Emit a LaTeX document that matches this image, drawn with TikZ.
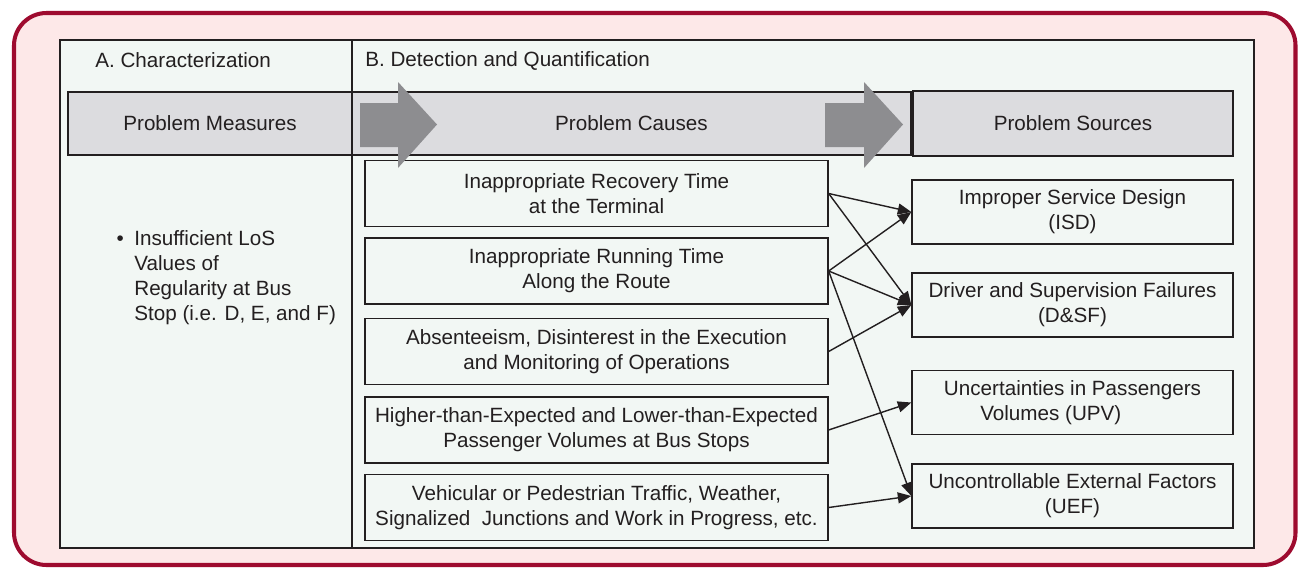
\documentclass[tikz,border=0pt]{standalone}
\usepackage{fontspec}
\setmainfont{Liberation Sans}
\usetikzlibrary{arrows.meta}
\definecolor{frameRed}{HTML}{9E0B2F}
\definecolor{framePink}{HTML}{FDE8E8}
\definecolor{panelGreen}{HTML}{F2F7F4}
\definecolor{barGray}{HTML}{DCDCDF}
\definecolor{arrowGray}{HTML}{8D8D90}
\definecolor{inkBlack}{HTML}{231F20}
\newcommand*{\mytextstyle}{\fontsize{11.75}{14.2}\selectfont\color{inkBlack}}
\newcommand{\blockarrow}[3]{%
% shaft start x, head base x, tip x
  \fill[arrowGray] (#1,103) -- (#2,103) -- (#2,82) -- (#3,124.5)
       -- (#2,168) -- (#2,147) -- (#1,147) -- cycle;
}
\tikzset{
  hdr/.style={draw=inkBlack, line width=0.8pt, fill=barGray, font=\mytextstyle,
    minimum height=1.26cm, inner sep=0pt},
  causebox/.style={draw=inkBlack, line width=0.8pt, fill=panelGreen, font=\mytextstyle,
    align=center, minimum width=9.26cm, minimum height=1.32cm, inner sep=0pt},
  sourcebox/.style={draw=inkBlack, line width=0.8pt, fill=panelGreen, font=\mytextstyle,
    align=center, minimum width=6.42cm, minimum height=1.28cm, inner sep=0pt},
  link/.style={draw=inkBlack, line width=0.8pt, -{Triangle[length=0.27cm,width=0.22cm]}}
}
\begin{document}
\begin{tikzpicture}[x=0.02cm, y=-0.02cm]
  \useasboundingbox (0,0) rectangle (1301,568);
  \draw[frameRed, fill=framePink, line width=2.3pt, rounded corners=0.65cm]
    (14,13) rectangle (1295.5,565);
  \draw[inkBlack, fill=panelGreen, line width=1.2pt] (60,40) rectangle (1254,548);
  \draw[inkBlack, line width=1.2pt] (352,40) -- (352,548);
  \node[anchor=west, font=\mytextstyle, inner sep=0pt] (parta) at (95,60) {A. Characterization};
  \node[anchor=west, font=\mytextstyle, inner sep=0pt] (partb) at (365,61) {B. Detection and Quantification};
  % header bar
  \node[hdr, minimum width=5.68cm] (measures) at (210,123.5) {Problem Measures};
  \node[hdr, minimum width=11.18cm] (causes) at (631.5,123.5) {Problem Causes};
  \node[hdr, minimum width=6.4cm, minimum height=1.3cm] (sources) at (1073,123.5) {Problem Sources};
  \node[font=\mytextstyle, align=left, inner sep=0pt, anchor=west] (measure) at (134,278)
    {\llap{\textbullet\hspace{6pt}}Insufficient LoS\\Values of\\Regularity at Bus\\Stop (i.e. D, E, and F)};
  % causes
  \foreach \name/\y/\text in {
      c1/193.5/{Inappropriate Recovery Time\\at the Terminal},
      c2/271/{Inappropriate Running Time\\Along the Route},
      c3/351.5/{Absenteeism, Disinterest in the Execution\\and Monitoring of Operations},
      c4/430/{Higher-than-Expected and Lower-than-Expected\\Passenger Volumes at Bus Stops},
      c5/507.5/{Vehicular or Pedestrian Traffic, Weather,\\Signalized\ \ Junctions and Work in Progress, etc.}} {
    \node[causebox] (\name) at (596.5,\y) {\text};
  }
  % sources
  \foreach \name/\y/\text in {
      isd/212/{Improper Service Design\\(ISD)},
      dsf/305/{Driver and Supervision Failures\\(D\&SF)},
      upv/402.5/{Uncertainties in Passengers\\Volumes (UPV)\hspace*{2.1em}},
      uef/496/{Uncontrollable External Factors\\(UEF)}} {
    \node[sourcebox] (\name) at (1072.5,\y) {\text};
  }
  \foreach \from/\to in {c1/isd, c1/dsf, c2/isd, c2/dsf, c2/uef, c3/dsf, c4/upv, c5/uef} {
    \draw[link] (\from.east) -- (\to.west);
  }
  \blockarrow{360}{398}{437}
  \blockarrow{825}{864}{903}
\end{tikzpicture}
\end{document}
